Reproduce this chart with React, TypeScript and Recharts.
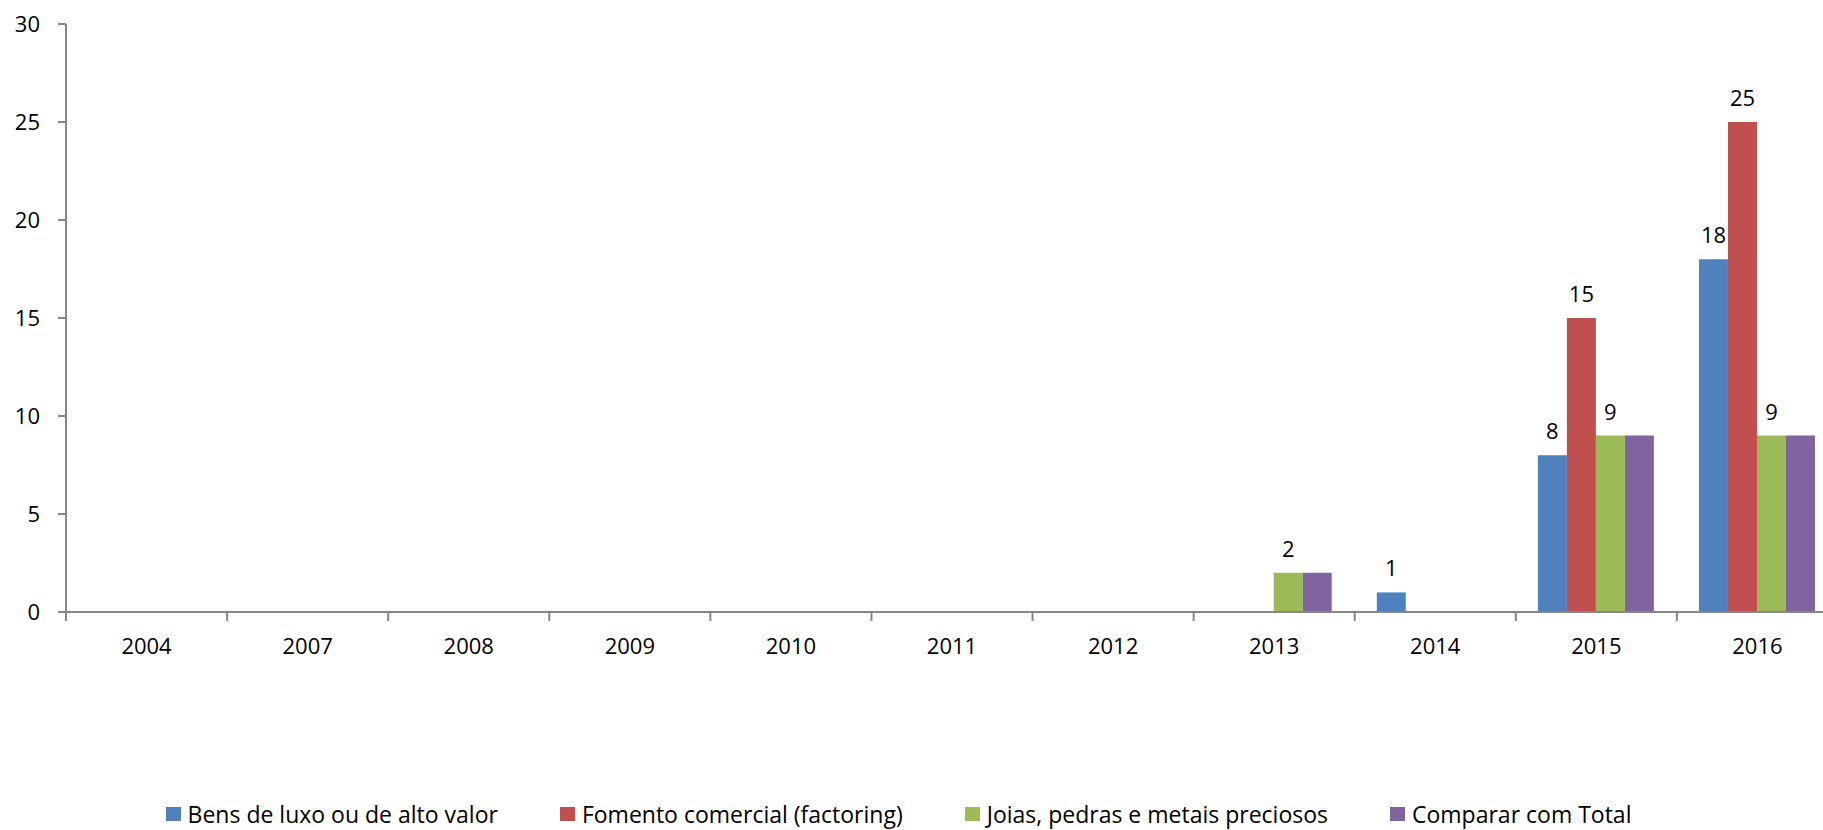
import { BarChart, Bar, XAxis, YAxis, Legend, LabelList } from 'recharts'

const years = ['2004', '2007', '2008', '2009', '2010', '2011', '2012', '2013', '2014', '2015', '2016']
const bensLuxo = [0, 0, 0, 0, 0, 0, 0, 0, 1, 8, 18]
const fomento = [0, 0, 0, 0, 0, 0, 0, 0, 0, 15, 25]
const joias = [0, 0, 0, 0, 0, 0, 0, 2, 0, 9, 9]
const total = [0, 0, 0, 0, 0, 0, 0, 2, 0, 9, 9]
const yTicks = [0, 5, 10, 15, 20, 25, 30]

const series = [
  { key: 'bens', name: 'Bens de luxo ou de alto valor', color: '#4F81BD', labels: true },
  { key: 'fomento', name: 'Fomento comercial (factoring)', color: '#C0504D', labels: true },
  { key: 'joias', name: 'Joias, pedras e metais preciosos', color: '#9BBB59', labels: true },
  { key: 'total', name: 'Comparar com Total', color: '#8064A2', labels: false },
]

const data = years.map((year, i) => ({
  year,
  bens: bensLuxo[i],
  fomento: fomento[i],
  joias: joias[i],
  total: total[i],
}))

const AXIS = '#868686'
const FONT = '"Open Sans", sans-serif'
const TICK_SIZE = 8
const TICK_MARGIN = 18

function YearTick(props: any) {
  const { x, y, payload } = props
  const half = payload?.offset ?? 80.5
  const axisY = y - TICK_SIZE - TICK_MARGIN
  return (
    <g>
      <line x1={x - half} y1={axisY} x2={x - half} y2={axisY + 9} stroke={AXIS} strokeWidth={2} />
      <text x={x} y={y} dy="0.71em" textAnchor="middle" fontSize={22} fill="#000" fontFamily={FONT}>
        {payload.value}
      </text>
    </g>
  )
}

function LegendBox() {
  return (
    <div
      style={{
        display: 'flex',
        justifyContent: 'center',
        alignItems: 'center',
        height: 32,
        lineHeight: '32px',
        paddingRight: 41,
        fontFamily: FONT,
        fontSize: 23,
        color: '#000',
        gap: 62,
      }}
    >
      {series.map((s) => (
        <div key={s.key} style={{ display: 'flex', alignItems: 'center', gap: 7, whiteSpace: 'nowrap' }}>
          <span style={{ display: 'inline-block', width: 15, height: 14, background: s.color }} />
          <span>{s.name}</span>
        </div>
      ))}
    </div>
  )
}

const hideZero = (v: any) => (v === 0 ? '' : v)

export default function App() {
  return (
    <div style={{ position: 'absolute', left: 0, top: 0, width: 1823, height: 830, overflow: 'hidden', background: '#fff' }}>
      <BarChart
        width={1838}
        height={830}
        data={data}
        margin={{ top: 24, right: 0, left: 0, bottom: 0 }}
        barCategoryGap="13.7%"
        barGap={0}
      >
        <YAxis
          width={66}
          domain={[0, 30]}
          ticks={yTicks}
          interval={0}
          tickSize={TICK_SIZE}
          tickMargin={TICK_MARGIN}
          axisLine={{ stroke: AXIS, strokeWidth: 2 }}
          tickLine={{ stroke: AXIS, strokeWidth: 2 }}
          tick={{ fontSize: 22, fill: '#000', fontFamily: FONT }}
        />
        <XAxis
          dataKey="year"
          height={186}
          interval={0}
          tickSize={TICK_SIZE}
          tickMargin={TICK_MARGIN}
          axisLine={{ stroke: AXIS, strokeWidth: 2 }}
          tickLine={{ stroke: 'none' }}
          tick={<YearTick />}
        />
        <Legend verticalAlign="bottom" content={<LegendBox />} />
        {series.map((s) => (
          <Bar key={s.key} dataKey={s.key} name={s.name} fill={s.color} isAnimationActive={false}>
            {s.labels && (
              <LabelList
                dataKey={s.key}
                position="top"
                offset={16}
                formatter={hideZero}
                style={{ fontSize: 22, fill: '#000', fontFamily: FONT }}
              />
            )}
          </Bar>
        ))}
      </BarChart>
    </div>
  )
}
